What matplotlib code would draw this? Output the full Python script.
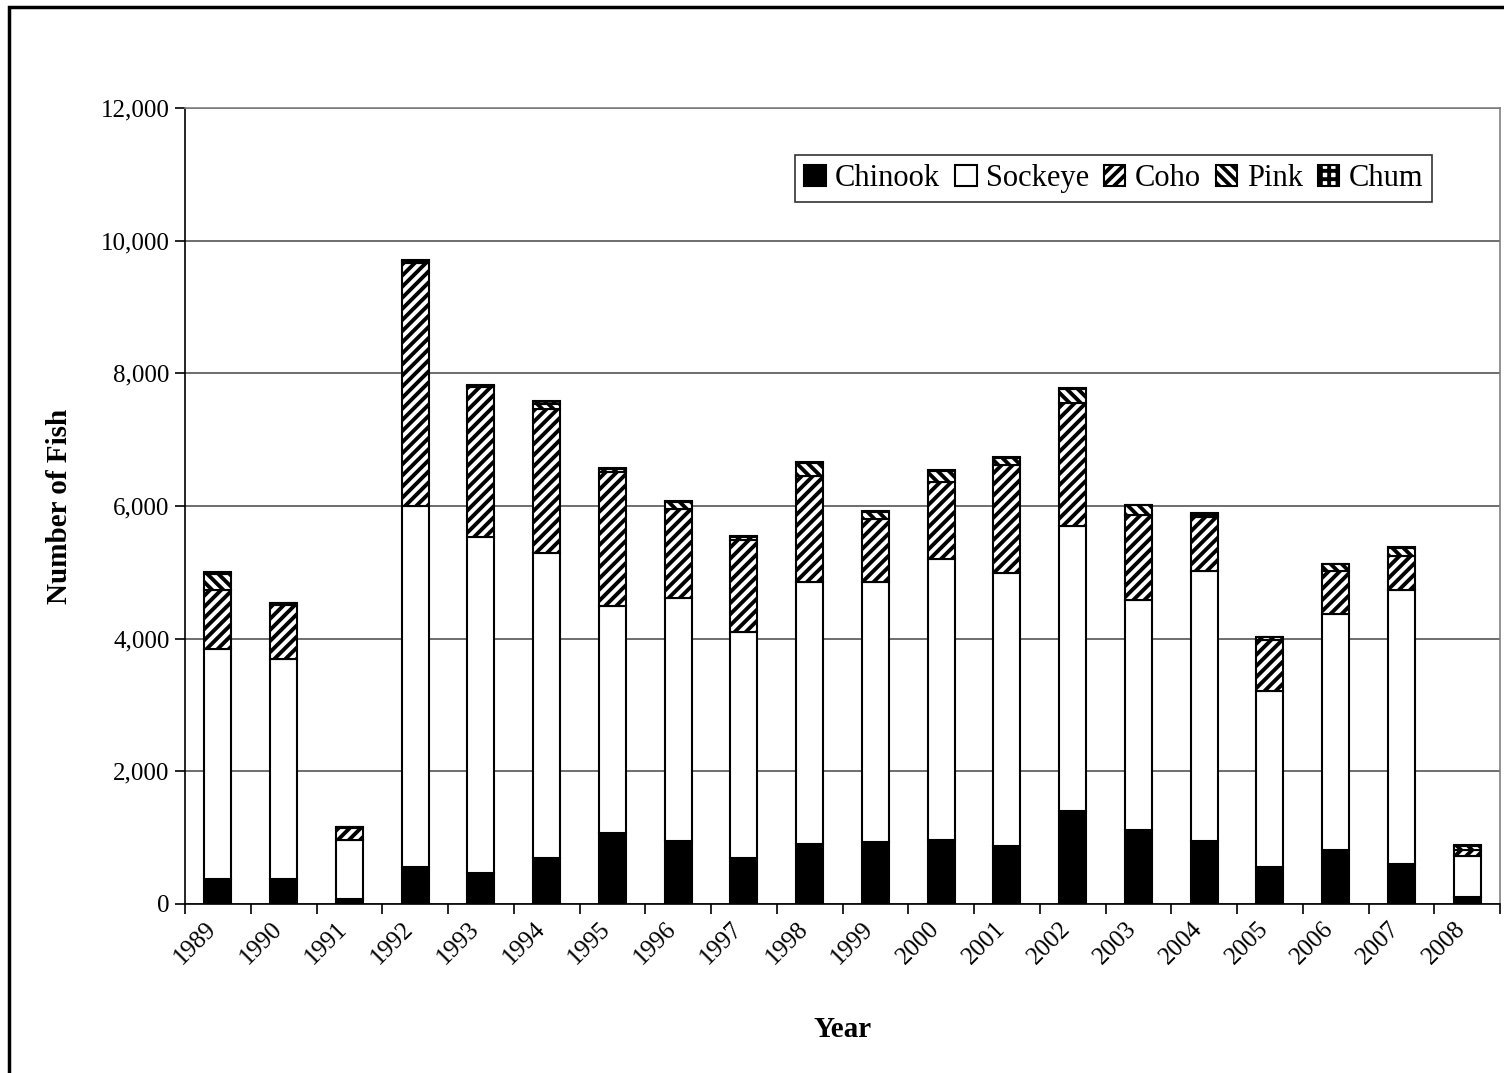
"""Stacked bar chart of salmon counts by year and species."""

import numpy as np
import matplotlib
matplotlib.use('Agg')
import matplotlib.pyplot as plt
import matplotlib.transforms as mtransforms
from matplotlib.patches import Rectangle

years = [str(y) for y in range(1989, 2009)]
chinook = [380, 370, 80, 560, 470, 700, 1070, 950, 690, 900,
           940, 960, 870, 1400, 1110, 950, 560, 820, 610, 100]
sockeye = [3470, 3320, 880, 5440, 5060, 4590, 3430, 3660, 3410, 3950,
           3910, 4240, 4120, 4300, 3470, 4070, 2650, 3550, 4130, 630]
coho = [880, 815, 190, 3660, 2260, 2170, 2010, 1350, 1380, 1600,
        950, 1160, 1630, 1860, 1290, 810, 770, 650, 500, 90]
pink = [240, 30, 10, 30, 20, 80, 50, 100, 60, 200,
        110, 170, 100, 210, 140, 40, 40, 100, 130, 50]
chum = [30, 10, 0, 20, 10, 40, 20, 20, 10, 10,
        10, 20, 20, 10, 10, 20, 10, 10, 10, 20]

species = ['Chinook', 'Sockeye', 'Coho', 'Pink', 'Chum']
series = [chinook, sockeye, coho, pink, chum]
faces = ['black', 'white', 'white', 'white', 'white']
hatches = [None, None, '///', '\\\\\\', '++']

plt.rcParams['font.family'] = ['Liberation Serif', 'DejaVu Serif']
plt.rcParams['hatch.linewidth'] = 2.8

fig = plt.figure(figsize=(15.04, 10.73), dpi=100)
ax = fig.add_axes([185 / 1504, 1 - 904 / 1073, 1315 / 1504, 796 / 1073])

x = np.arange(len(years))
bottom = np.zeros(len(years))
handles = []
for name, vals, fc, h in zip(species, series, faces, hatches):
    vals = np.array(vals, dtype=float)
    bars = ax.bar(x, vals, width=0.41, bottom=bottom, color=fc,
                  edgecolor='black', linewidth=1.5, hatch=h, label=name,
                  zorder=3)
    bottom += vals
    handles.append(bars)

ax.set_xlim(-0.5, len(years) - 0.5)
ax.set_ylim(0, 12000)
ax.set_yticks(np.arange(0, 12001, 2000))
ax.set_yticklabels(['{:,}'.format(v) for v in range(0, 12001, 2000)],
                   fontsize=18)
ax.yaxis.grid(True, color='#555555', linewidth=1.2, zorder=0)

# category ticks sit between the bars, labels under the bars
ax.set_xticks(np.arange(-0.5, len(years), 1.0))
ax.set_xticklabels([])
ax.set_xticks(x, minor=True)
ax.set_xticklabels(years, minor=True, rotation=45, ha='right',
                   rotation_mode='anchor', fontsize=18)
ax.tick_params(axis='x', which='major', length=7, width=1.2, direction='out')
ax.tick_params(axis='x', which='minor', length=0, pad=10)
ax.tick_params(axis='y', length=7, width=1.2, direction='out', pad=4)
shift = mtransforms.ScaledTranslation(-0.13, 0, fig.dpi_scale_trans)
for lab in ax.get_xticklabels(minor=True):
    lab.set_transform(lab.get_transform() + shift)

for side in ['left', 'bottom']:
    ax.spines[side].set_linewidth(1.2)
    ax.spines[side].set_color('black')
for side in ['top', 'right']:
    ax.spines[side].set_linewidth(1.2)
    ax.spines[side].set_color('#808080')

ax.set_xlabel('Year', fontsize=21, fontweight='bold', labelpad=34)
ax.set_ylabel('Number of Fish', fontsize=21, fontweight='bold', labelpad=20)

leg = ax.legend(handles=handles, loc='upper left',
                bbox_to_anchor=((795 - 185) / 1315, (904 - 155) / 796),
                ncol=5, fontsize=22, handlelength=0.7, handleheight=0.7,
                handletextpad=0.3, columnspacing=0.5, borderpad=0.3,
                fancybox=False, frameon=True, borderaxespad=0)
leg.get_frame().set_edgecolor('black')
leg.get_frame().set_linewidth(1.2)

# outer chart border (left and top visible)
fig.patches.append(Rectangle((9 / 1504, -0.05), 1.1, 1 - 7 / 1073 + 0.05,
                             transform=fig.transFigure, fill=False,
                             edgecolor='black', linewidth=2.5))

fig.savefig('out.png', dpi=100)
